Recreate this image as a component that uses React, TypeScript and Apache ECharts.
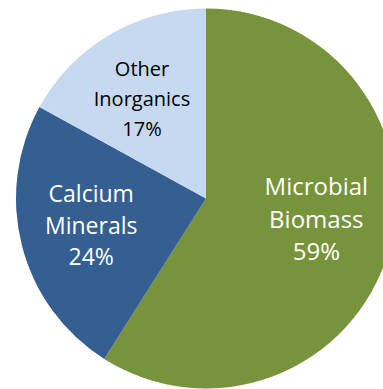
import React, { useEffect, useRef } from "react";
import * as echarts from "echarts";

// Composition shares (%)
const categories = ["Microbial\nBiomass", "Calcium\nMinerals", "Other\nInorganics"];
const shares = [59, 24, 17];
const sliceColors = ["#77933C", "#365F91", "#C6D9F0"];
const labelColors = ["#FFFFFF", "#FFFFFF", "#000000"];
const labelFontSizes = [24, 23, 20];
const labelLineHeights = [32.5, 31.5, 30];

const CX = 206;
const CY = 198.5;
const R = 190;
// label placement: distance from the centre (fraction of radius) and angular nudge (deg)
const labelRadius = [0.59, 0.62, 0.627];
const labelAngleShift = [-6, 1.4, -1.9];

export default function App() {
  const ref = useRef<HTMLDivElement>(null);

  useEffect(() => {
    document.body.style.margin = "0";
    if (!ref.current) return;
    const chart = echarts.init(ref.current, undefined, { renderer: "svg" });
    const total = shares.reduce((a, b) => a + b, 0);

    chart.setOption({
      animation: false,
      backgroundColor: "#FFFFFF",
      series: [
        {
          type: "pie",
          center: [CX, CY],
          radius: [0, R],
          startAngle: 90,
          clockwise: true,
          silent: true,
          itemStyle: { borderWidth: 0 },
          label: {
            show: true,
            position: "inside",
            fontFamily: "Open Sans",
            align: "center",
            verticalAlign: "middle",
            formatter: (p: any) => `${p.name}\n${p.value}%`,
          },
          labelLine: { show: false },
          labelLayout: (params: any) => {
            const i = params.dataIndex;
            let before = 0;
            for (let k = 0; k < i; k++) before += shares[k];
            const mid =
              ((before + shares[i] / 2) / total) * Math.PI * 2 +
              (labelAngleShift[i] * Math.PI) / 180;
            const d = R * labelRadius[i];
            return {
              x: CX + d * Math.sin(mid),
              y: CY - d * Math.cos(mid),
              align: "center",
              verticalAlign: "middle",
            };
          },
          data: categories.map((name, i) => ({
            name,
            value: shares[i],
            itemStyle: { color: sliceColors[i] },
            label: {
              color: labelColors[i],
              fontSize: labelFontSizes[i],
              lineHeight: labelLineHeights[i],
            },
          })),
        },
      ],
    });
    return () => chart.dispose();
  }, []);

  return <div ref={ref} style={{ width: 383, height: 389 }} />;
}
